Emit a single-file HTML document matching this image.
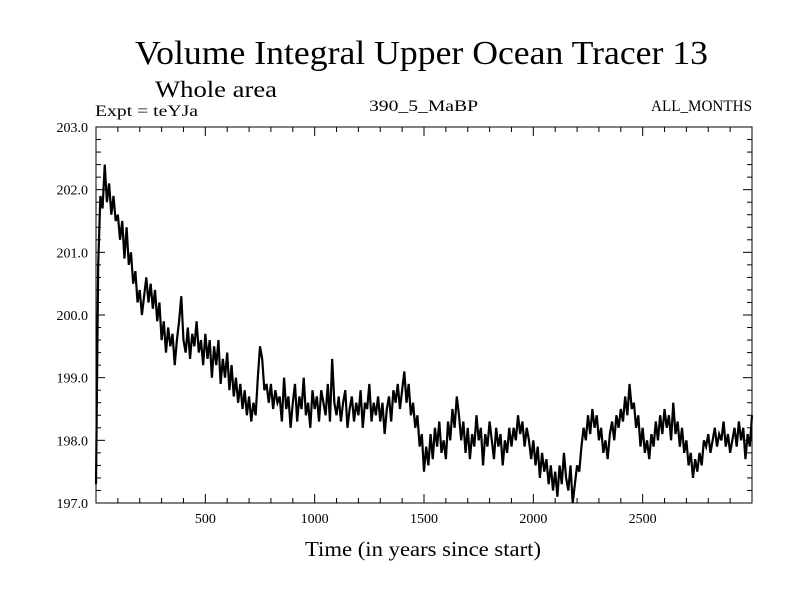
<!DOCTYPE html>
<html><head><meta charset="utf-8"><style>
html,body{margin:0;padding:0;background:#fff;}
svg{display:block;font-family:"Liberation Serif",serif;}
</style></head><body>
<svg id="chart" width="800" height="600">
<text x="135" y="64" font-size="34" textLength="573" lengthAdjust="spacingAndGlyphs">Volume Integral Upper Ocean Tracer 13</text>
<text x="155" y="97" font-size="23" textLength="122" lengthAdjust="spacingAndGlyphs">Whole area</text>
<text x="95" y="116" font-size="16" textLength="103" lengthAdjust="spacingAndGlyphs">Expt = teYJa</text>
<text x="369" y="111" font-size="16" textLength="109" lengthAdjust="spacingAndGlyphs">390_5_MaBP</text>
<text x="651" y="111" font-size="16" textLength="101" lengthAdjust="spacingAndGlyphs">ALL_MONTHS</text>
<text x="305" y="556" font-size="21" textLength="236" lengthAdjust="spacingAndGlyphs">Time (in years since start)</text>
<g id="axes"></g>
<path id="series" fill="none" stroke="#000" stroke-width="2.2" stroke-linejoin="miter"></path>
<rect x="96" y="127" width="656" height="376" fill="none" stroke="#000" stroke-width="1"></rect>
</svg>
<script>
const startYear = 0;
const stepYears = 10;
const values = [
197.3,200.8,201.9,201.7,202.4,201.8,202.1,201.6,201.9,201.5,
201.6,201.2,201.5,200.9,201.4,200.8,201.0,200.5,200.7,200.2,
200.4,200.0,200.3,200.6,200.2,200.5,200.1,200.4,199.9,200.2,
199.6,199.9,199.4,199.8,199.5,199.7,199.2,199.6,199.9,200.3,
199.6,199.4,199.8,199.3,199.7,199.5,199.9,199.4,199.6,199.2,
199.7,199.3,199.6,199.0,199.5,199.2,199.6,198.9,199.3,199.0,
199.4,198.8,199.2,198.7,199.0,198.6,198.9,198.5,198.8,198.4,
198.7,198.3,198.6,198.4,199.0,199.5,199.3,198.8,198.9,198.6,
198.9,198.5,198.8,198.6,198.7,198.3,199.0,198.5,198.7,198.2,
198.6,198.9,198.3,198.7,198.5,199.0,198.4,198.6,198.2,198.8,
198.5,198.7,198.3,198.8,198.6,198.4,198.9,198.3,199.3,198.6,
198.4,198.7,198.3,198.6,198.8,198.2,198.5,198.7,198.3,198.6,
198.4,198.8,198.2,198.6,198.5,198.9,198.3,198.6,198.4,198.7,
198.3,198.6,198.1,198.5,198.7,198.3,198.8,198.6,198.9,198.5,
198.8,199.1,198.6,198.9,198.4,198.6,198.2,198.4,197.9,198.1,
197.5,197.9,197.6,198.1,197.7,198.2,197.9,198.3,197.8,198.0,
197.7,198.3,198.0,198.5,198.2,198.7,198.4,198.0,198.3,197.8,
198.2,197.7,198.1,197.9,198.4,198.0,198.2,197.6,198.1,197.9,
198.3,198.0,197.7,198.2,197.9,198.1,197.6,198.0,197.8,198.2,
197.9,198.2,198.0,198.4,198.1,198.3,197.9,198.2,198.0,197.7,
198.0,197.6,197.9,197.4,197.8,197.5,197.7,197.3,197.6,197.2,
197.5,197.1,197.6,197.3,197.8,197.4,197.2,197.6,197.0,197.3,
197.6,197.5,197.9,198.2,198.0,198.4,198.1,198.5,198.2,198.4,
198.0,198.2,197.8,198.0,197.7,198.1,198.3,198.0,198.4,198.2,
198.5,198.3,198.7,198.4,198.9,198.5,198.6,198.2,198.4,197.9,
198.2,197.8,198.0,197.7,198.1,197.9,198.3,198.0,198.4,198.1,
198.5,198.2,198.4,198.0,198.6,198.1,198.3,197.9,198.2,197.8,
198.0,197.6,197.8,197.4,197.7,197.5,197.8,197.6,198.0,197.9,
198.1,197.8,198.0,198.2,197.9,198.1,198.0,198.3,197.9,198.1,
197.8,198.0,198.2,197.9,198.3,198.0,198.2,197.7,198.1,197.9,198.4
];
const xTickLabels = ["500","1000","1500","2000","2500"];
const yTickLabels = ["197.0","198.0","199.0","200.0","201.0","202.0","203.0"];

const X0=96, X1=752, Y0=127, Y1=503;
const xMin=0, xMax=3000, yMin=197, yMax=203;
function xs(v){return X0+(v-xMin)/(xMax-xMin)*(X1-X0);}
function ys(v){return Y1-(v-yMin)/(yMax-yMin)*(Y1-Y0);}
const NS="http://www.w3.org/2000/svg";
const axes=document.getElementById('axes');
function line(x1,y1,x2,y2,name){
  const l=document.createElementNS(NS,'line');
  l.setAttribute('x1',x1);l.setAttribute('y1',y1);l.setAttribute('x2',x2);l.setAttribute('y2',y2);
  l.setAttribute('stroke','#000');l.setAttribute('stroke-width','1');
  
  
  axes.appendChild(l);
}
function text(x,y,s,anchor,name){
  const t=document.createElementNS(NS,'text');
  t.setAttribute('x',x);t.setAttribute('y',y);t.setAttribute('font-size','14');
  t.setAttribute('text-anchor',anchor);t.textContent=s;
  
  
  axes.appendChild(t);
}
for(let v=100; v<xMax; v+=100){
  const x=xs(v), major=(v%500===0), len=major?9:5;
  line(x,Y1,x,Y1-len,'x-tick');
  line(x,Y0,x,Y0+len,'x-tick-top');
}
xTickLabels.forEach(s=>{ text(xs(parseFloat(s)),Y1+20,s,'middle','x-tick-label'); });
for(let i=1;i<30;i++){
  const v=yMin+i*0.2, y=ys(v), major=(i%5===0), len=major?9:5;
  line(X0,y,X0+len,y,'y-tick');
  line(X1,y,X1-len,y,'y-tick-right');
}
yTickLabels.forEach(s=>{ text(X0-8,ys(parseFloat(s))+5,s,'end','y-tick-label'); });
let d='';
values.forEach((v,i)=>{ const yr=startYear+i*stepYears; d+=(i?'L':'M')+xs(yr).toFixed(2)+','+ys(v).toFixed(2); });
document.getElementById('series').setAttribute('d',d);
</script>
</body></html>
